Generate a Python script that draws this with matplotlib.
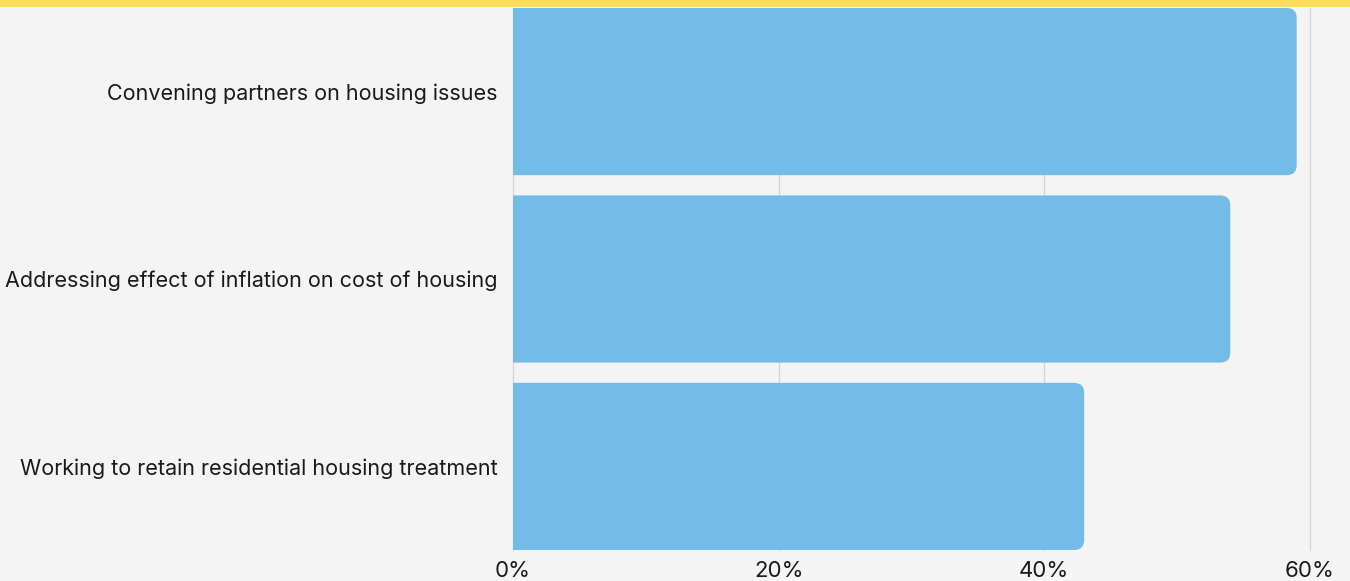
import matplotlib.pyplot as plt
from matplotlib.patches import PathPatch, Rectangle
from matplotlib.path import Path

categories = [
    "Convening partners on housing issues",
    "Addressing effect of inflation on cost of housing",
    "Working to retain residential housing treatment",
]
values = [59, 54, 43]
ticks = [0, 20, 40, 60]
tick_labels = ["0%", "20%", "40%", "60%"]

bg = "#f4f4f4"
bar_color = "#74bce8"
band_color = "#ffdc5f"
text_color = "#1a1a1a"

plt.rcParams["font.family"] = ["Inter", "DejaVu Sans"]

W, H = 1350, 581
fig = plt.figure(figsize=(W / 100, H / 100), dpi=100, facecolor=bg)
ax = fig.add_axes([513 / W, 1 - 550 / H, (1310 - 513) / W, (550 - 8) / H])
ax.set_facecolor(bg)

# yellow strip across the top
fig.patches.append(Rectangle((0, 1 - 7 / H), 1, 7 / H, transform=fig.transFigure,
                             facecolor=band_color, edgecolor="none"))

bar_h = 0.892
ax.set_xlim(0, 60)
ax.set_ylim(len(categories) - 1 + bar_h / 2, -bar_h / 2)

# corner radius in data units along each axis
radius_px = 10
rx = radius_px * 60 / (1310 - 513)
ry = radius_px * (len(categories) - 1 + bar_h) / (550 - 8)


def rounded_bar(y0, y1, v):
    # square on the left, rounded on the right
    verts = [(0, y0), (v - rx, y0), (v, y0), (v, y0 + ry),
             (v, y1 - ry), (v, y1), (v - rx, y1), (0, y1), (0, y0)]
    codes = [Path.MOVETO, Path.LINETO, Path.CURVE3, Path.CURVE3,
             Path.LINETO, Path.CURVE3, Path.CURVE3, Path.LINETO, Path.CLOSEPOLY]
    return Path(verts, codes)


for i, v in enumerate(values):
    path = rounded_bar(i - bar_h / 2, i + bar_h / 2, v)
    ax.add_patch(PathPatch(path, facecolor=bar_color, edgecolor="none", zorder=2))

ax.set_yticks(range(len(categories)))
ax.set_yticklabels(categories, fontsize=15.5, color=text_color)
ax.set_xticks(ticks)
ax.set_xticklabels(tick_labels, fontsize=16, color=text_color)
ax.tick_params(axis="both", length=0)
ax.tick_params(axis="y", pad=11)
ax.tick_params(axis="x", pad=8)

ax.grid(axis="x", color="#d6d6d6", linewidth=1)
for gl in ax.get_xgridlines():
    gl.set_clip_on(False)
ax.set_axisbelow(True)
for s in ax.spines.values():
    s.set_visible(False)

fig.savefig("out.png", dpi=100, facecolor=bg)
